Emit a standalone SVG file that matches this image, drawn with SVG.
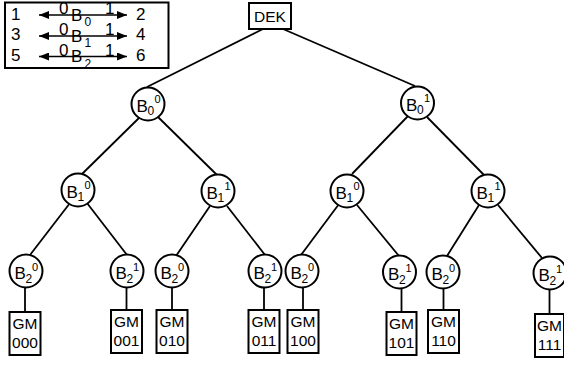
<svg xmlns="http://www.w3.org/2000/svg" width="564" height="367" viewBox="0 0 564 367">
<defs>
<marker id="ah" viewBox="0 0 10 8" refX="10" refY="4" markerWidth="11" markerHeight="8" markerUnits="userSpaceOnUse" orient="auto-start-reverse">
<path d="M0,0 L10,4 L0,8 Z" fill="#000"/>
</marker>
</defs>
<style>
text{font-family:"Liberation Sans",Arial,sans-serif;fill:#000}
.n{fill:#fff;stroke:#000;stroke-width:2}
.bx{fill:#fff;stroke:#000;stroke-width:2}
.e{stroke:#000;stroke-width:1.8;fill:none}
.a{stroke:#000;stroke-width:1.7;fill:none}
.big{font-size:17px}
.sb{font-size:12px}
.sp{font-size:11px}
.g{font-size:15.5px;text-anchor:middle}
.lg{font-size:17px}
.ls{font-size:12px}
</style>
<rect width="564" height="367" fill="#fff"/>
<g id="legend">
<rect x="5" y="2.5" width="163.5" height="65.5" class="bx"/>
<line x1="39" y1="15" x2="127" y2="15" class="a" marker-start="url(#ah)" marker-end="url(#ah)"/>
<line x1="39" y1="36" x2="127" y2="36" class="a" marker-start="url(#ah)" marker-end="url(#ah)"/>
<line x1="39" y1="56.5" x2="127" y2="56.5" class="a" marker-start="url(#ah)" marker-end="url(#ah)"/>
<text x="11" y="19.5" class="lg">1</text><text x="11" y="40" class="lg">3</text><text x="11" y="60.5" class="lg">5</text>
<text x="136" y="19.5" class="lg">2</text><text x="136" y="40" class="lg">4</text><text x="136" y="60.5" class="lg">6</text>
<text x="59" y="14" class="lg">0</text><text x="71" y="20.5" class="lg">B</text><text x="84.5" y="26" class="ls">0</text><text x="105" y="14" class="lg">1</text>
<text x="59" y="35" class="lg">0</text><text x="71" y="41.5" class="lg">B</text><text x="84.5" y="47" class="ls">1</text><text x="105" y="35" class="lg">1</text>
<text x="59" y="55.5" class="lg">0</text><text x="71" y="62" class="lg">B</text><text x="84.5" y="67.5" class="ls">2</text><text x="105" y="55.5" class="lg">1</text>
</g>
<g id="connectors">
<line x1="263" y1="29" x2="147" y2="87" class="e"/>
<line x1="283" y1="29" x2="415" y2="86" class="e"/>
<line x1="140" y1="117" x2="82" y2="174" class="e"/>
<line x1="158" y1="117" x2="217" y2="175" class="e"/>
<line x1="408" y1="116" x2="352" y2="174" class="e"/>
<line x1="427" y1="117" x2="484" y2="175" class="e"/>
<line x1="70" y1="203" x2="30" y2="255" class="e"/>
<line x1="87" y1="203" x2="127" y2="255" class="e"/>
<line x1="210" y1="206" x2="176" y2="256" class="e"/>
<line x1="227" y1="206" x2="265" y2="255" class="e"/>
<line x1="339" y1="204" x2="301" y2="255" class="e"/>
<line x1="357" y1="205" x2="399" y2="256" class="e"/>
<line x1="479" y1="205" x2="447" y2="256" class="e"/>
<line x1="498" y1="205" x2="542" y2="258" class="e"/>
<line x1="25" y1="287" x2="25" y2="312" class="e"/>
<line x1="126.5" y1="287" x2="126.5" y2="310" class="e"/>
<line x1="172" y1="287" x2="172" y2="310" class="e"/>
<line x1="264" y1="287" x2="264" y2="310" class="e"/>
<line x1="303" y1="287" x2="303" y2="310" class="e"/>
<line x1="401.5" y1="288" x2="401.5" y2="312" class="e"/>
<line x1="443.5" y1="288" x2="443.5" y2="310" class="e"/>
<line x1="549.5" y1="289" x2="549.5" y2="314" class="e"/>
</g>
<g id="DEK">
<rect x="249" y="3" width="42" height="26" class="bx"/>
<text x="270" y="22" class="g">DEK</text>
</g>
<g id="B0_0"><circle cx="148" cy="104" r="16.5" class="n"/><text x="136.5" y="112" class="big">B</text><text x="147.5" y="114.5" class="sb">0</text><text x="154.5" y="103" class="sp">0</text></g>
<g id="B0_1"><circle cx="417.5" cy="103" r="16.5" class="n"/><text x="406" y="111" class="big">B</text><text x="417" y="113.5" class="sb">0</text><text x="424" y="102" class="sp">1</text></g>
<g id="B1_0a"><circle cx="78" cy="190" r="16.5" class="n"/><text x="66.5" y="198" class="big">B</text><text x="77.5" y="200.5" class="sb">1</text><text x="84.5" y="189" class="sp">0</text></g>
<g id="B1_1a"><circle cx="218" cy="191" r="16.5" class="n"/><text x="206.5" y="199" class="big">B</text><text x="217.5" y="201.5" class="sb">1</text><text x="224.5" y="190" class="sp">1</text></g>
<g id="B1_0b"><circle cx="347" cy="191" r="16.5" class="n"/><text x="335.5" y="199" class="big">B</text><text x="346.5" y="201.5" class="sb">1</text><text x="353.5" y="190" class="sp">0</text></g>
<g id="B1_1b"><circle cx="488" cy="191" r="16.5" class="n"/><text x="476.5" y="199" class="big">B</text><text x="487.5" y="201.5" class="sb">1</text><text x="494.5" y="190" class="sp">1</text></g>
<g id="B2_000"><circle cx="26" cy="271" r="16.5" class="n"/><text x="14.5" y="278.5" class="big">B</text><text x="25.5" y="282.5" class="sb">2</text><text x="32" y="271" class="sp">0</text></g>
<g id="B2_001"><circle cx="127" cy="271" r="16.5" class="n"/><text x="115.5" y="278.5" class="big">B</text><text x="126.5" y="282.5" class="sb">2</text><text x="133" y="271" class="sp">1</text></g>
<g id="B2_010"><circle cx="172" cy="271" r="16.5" class="n"/><text x="160.5" y="278.5" class="big">B</text><text x="171.5" y="282.5" class="sb">2</text><text x="178" y="271" class="sp">0</text></g>
<g id="B2_011"><circle cx="265" cy="271" r="16.5" class="n"/><text x="253.5" y="278.5" class="big">B</text><text x="264.5" y="282.5" class="sb">2</text><text x="271" y="271" class="sp">1</text></g>
<g id="B2_100"><circle cx="302" cy="271" r="16.5" class="n"/><text x="290.5" y="278.5" class="big">B</text><text x="301.5" y="282.5" class="sb">2</text><text x="308" y="271" class="sp">0</text></g>
<g id="B2_101"><circle cx="399.5" cy="272" r="16.5" class="n"/><text x="388" y="279.5" class="big">B</text><text x="399" y="283.5" class="sb">2</text><text x="405.5" y="272" class="sp">1</text></g>
<g id="B2_110"><circle cx="443" cy="272" r="16.5" class="n"/><text x="431.5" y="279.5" class="big">B</text><text x="442.5" y="283.5" class="sb">2</text><text x="449" y="272" class="sp">0</text></g>
<g id="B2_111"><circle cx="550" cy="273" r="16.5" class="n"/><text x="538.5" y="280.5" class="big">B</text><text x="549.5" y="284.5" class="sb">2</text><text x="556" y="273" class="sp">1</text></g>
<g id="GM000"><rect x="9.5" y="312" width="31" height="43" class="bx"/><text x="25" y="328.5" class="g">GM</text><text x="25" y="348" class="g">000</text></g>
<g id="GM001"><rect x="111" y="310" width="31" height="43" class="bx"/><text x="126.5" y="326.5" class="g">GM</text><text x="126.5" y="346" class="g">001</text></g>
<g id="GM010"><rect x="156.5" y="310" width="31" height="43" class="bx"/><text x="172" y="326.5" class="g">GM</text><text x="172" y="346" class="g">010</text></g>
<g id="GM011"><rect x="248.5" y="310" width="31" height="43" class="bx"/><text x="264" y="326.5" class="g">GM</text><text x="264" y="346" class="g">011</text></g>
<g id="GM100"><rect x="287.5" y="310" width="31" height="43" class="bx"/><text x="303" y="326.5" class="g">GM</text><text x="303" y="346" class="g">100</text></g>
<g id="GM101"><rect x="386.5" y="312" width="30" height="43" class="bx"/><text x="401.5" y="328.5" class="g">GM</text><text x="401.5" y="348" class="g">101</text></g>
<g id="GM110"><rect x="428" y="310" width="31" height="43" class="bx"/><text x="443.5" y="326.5" class="g">GM</text><text x="443.5" y="346" class="g">110</text></g>
<g id="GM111"><rect x="535" y="314" width="29" height="43" class="bx"/><text x="549.5" y="330.5" class="g">GM</text><text x="549.5" y="350" class="g">111</text></g>
</svg>
